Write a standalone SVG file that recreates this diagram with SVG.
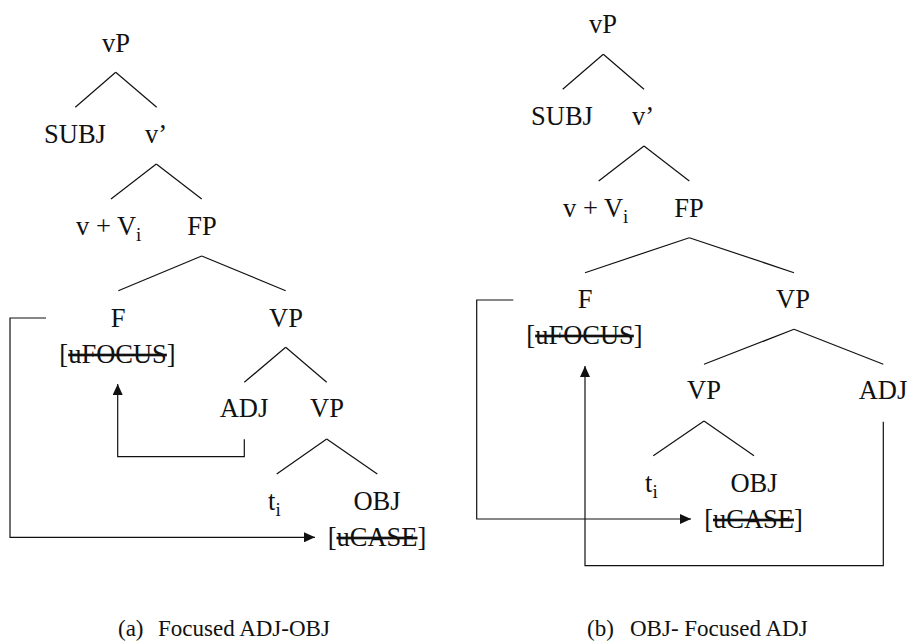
<svg xmlns="http://www.w3.org/2000/svg" width="909" height="643" viewBox="0 0 909 643">
<style>
text{font-family:"Liberation Serif","Times New Roman",serif;font-size:26.5px;fill:#111;}
.c{text-anchor:middle;}
.cap{font-size:23px;}
.sub{font-size:19px;}
.st{text-decoration:line-through;}
.br line{stroke:#111;stroke-width:1.2;}
.mv{fill:none;stroke:#111;stroke-width:1.2;}
</style>
<defs>
<marker id="ah" markerUnits="userSpaceOnUse" markerWidth="11" markerHeight="10" refX="11" refY="5" orient="auto">
<path d="M0,0 L11,5 L0,10 Z" fill="#111"/>
</marker>
</defs>
<rect width="909" height="643" fill="#fff"/>

<!-- Left tree nodes -->
<g id="a-vP"><text class="c" x="116" y="52">vP</text></g>
<g id="a-SUBJ"><text class="c" x="75" y="143">SUBJ</text></g>
<g id="a-vbar"><text class="c" x="156" y="143">v’</text></g>
<g id="a-vV"><text x="76" y="235">v + V<tspan class="sub" dy="6">i</tspan></text></g>
<g id="a-FP"><text class="c" x="202" y="235">FP</text></g>
<g id="a-F"><text class="c" x="118" y="327">F</text><text class="c" x="117.5" y="363">[<tspan class="st">uFOCUS</tspan>]</text></g>
<g id="a-VP1"><text class="c" x="286" y="327">VP</text></g>
<g id="a-ADJ"><text class="c" x="244" y="417">ADJ</text></g>
<g id="a-VP2"><text class="c" x="327" y="417">VP</text></g>
<g id="a-t"><text x="268" y="510">t<tspan class="sub" dy="6">i</tspan></text></g>
<g id="a-OBJ"><text class="c" x="377" y="510">OBJ</text><text class="c" x="377" y="546">[<tspan class="st">uCASE</tspan>]</text></g>
<g id="a-cap"><text class="cap" x="118" y="636">(a)</text><text class="cap" x="158" y="636">Focused ADJ-OBJ</text></g>

<!-- Right tree nodes -->
<g id="b-vP"><text class="c" x="603" y="33">vP</text></g>
<g id="b-SUBJ"><text class="c" x="562" y="125">SUBJ</text></g>
<g id="b-vbar"><text class="c" x="643" y="125">v’</text></g>
<g id="b-vV"><text x="563" y="217">v + V<tspan class="sub" dy="6">i</tspan></text></g>
<g id="b-FP"><text class="c" x="689" y="217">FP</text></g>
<g id="b-F"><text class="c" x="585" y="308">F</text><text class="c" x="584.5" y="344">[<tspan class="st">uFOCUS</tspan>]</text></g>
<g id="b-VP1"><text class="c" x="793" y="308">VP</text></g>
<g id="b-VP2"><text class="c" x="704" y="399">VP</text></g>
<g id="b-ADJ"><text class="c" x="883" y="399">ADJ</text></g>
<g id="b-t"><text x="645" y="492">t<tspan class="sub" dy="6">i</tspan></text></g>
<g id="b-OBJ"><text class="c" x="754" y="492">OBJ</text><text class="c" x="753.5" y="528">[<tspan class="st">uCASE</tspan>]</text></g>
<g id="b-cap"><text class="cap" x="587" y="636">(b)</text><text class="cap" x="630" y="636">OBJ- Focused ADJ</text></g>

<!-- Connectors -->
<g id="connectors">
<g class="br">
<line x1="115.7" y1="72.3" x2="75.3" y2="107.3"/><line x1="115.7" y1="72.3" x2="156.7" y2="107.3"/>
<line x1="156.3" y1="164" x2="111" y2="199"/><line x1="156.3" y1="164" x2="201.7" y2="199"/>
<line x1="201.7" y1="256" x2="118.3" y2="290.7"/><line x1="201.7" y1="256" x2="285.7" y2="290.7"/>
<line x1="285.7" y1="347.3" x2="244.3" y2="382.3"/><line x1="285.7" y1="347.3" x2="326.7" y2="382.3"/>
<line x1="326.7" y1="439" x2="276.7" y2="474"/><line x1="326.7" y1="439" x2="377.3" y2="474"/>

<line x1="603.3" y1="54.3" x2="562.7" y2="89.3"/><line x1="603.3" y1="54.3" x2="644" y2="89.3"/>
<line x1="644" y1="146" x2="598.7" y2="181"/><line x1="644" y1="146" x2="689.3" y2="181"/>
<line x1="689.3" y1="237.7" x2="585" y2="272.7"/><line x1="689.3" y1="237.7" x2="794" y2="272.7"/>
<line x1="794" y1="329.3" x2="704" y2="364.3"/><line x1="794" y1="329.3" x2="883.3" y2="364.3"/>
<line x1="704" y1="421" x2="653.3" y2="455.7"/><line x1="704" y1="421" x2="754" y2="455.7"/>
</g>
<path class="mv" d="M46,318 H10 V537.3 H315" marker-end="url(#ah)"/>
<path class="mv" d="M244.3,439.3 V456.7 H117.7 V384" marker-end="url(#ah)"/>
<path class="mv" d="M513.3,300 H476.7 V519 H691" marker-end="url(#ah)"/>
<path class="mv" d="M883.3,421.7 V565.7 H585 V366" marker-end="url(#ah)"/>
</g>
</svg>
